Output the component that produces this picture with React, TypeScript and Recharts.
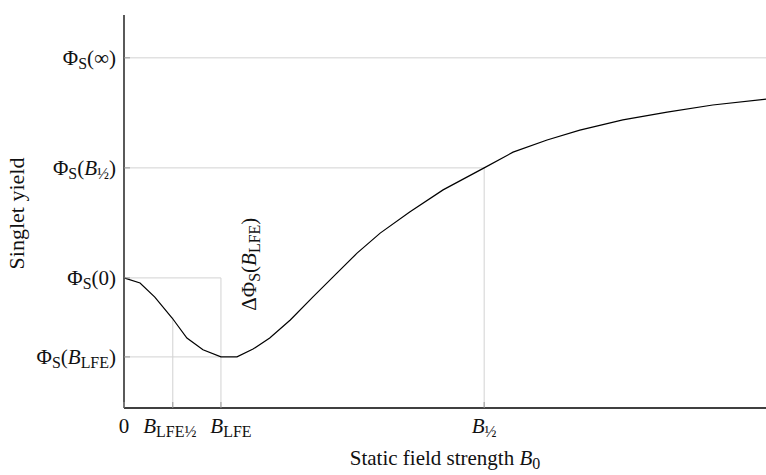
import React from 'react';
import { LineChart, Line, XAxis, YAxis, ReferenceLine, ReferenceDot } from 'recharts';

type Seg = { t: string; sub?: boolean; it?: boolean };

// curve: static field (0..100 of axis) vs singlet yield (0..100 of axis)
const FIELD = [0, 2.5, 4.8, 7.5, 9.8, 12.3, 15.1, 17.6, 20.1, 22.7, 25.9, 29.4, 33.2, 36.3, 39.9, 44.5, 49.7, 56.1, 60.6, 65.9, 71.0, 77.7, 84.6, 91.7, 100];
const YIELD = [33.1, 31.8, 28.2, 22.9, 17.8, 14.8, 13.0, 13.0, 15.0, 17.8, 22.4, 28.2, 34.4, 39.4, 44.5, 49.9, 55.5, 61.1, 65.1, 68.2, 70.7, 73.3, 75.3, 77.1, 78.6];

// 0, B_LFE½, B_LFE, B½
const X_TICKS = [0, 7.6, 15.1, 56.1];
// Φ(B_LFE), Φ(0), Φ(B½), Φ(∞)
const Y_TICKS = [13.0, 33.1, 61.1, 89.1];

const X_TICK_LABELS: Seg[][] = [
  [{ t: '0' }],
  [{ t: 'B', it: true }, { t: 'LFE½', sub: true }],
  [{ t: 'B', it: true }, { t: 'LFE', sub: true }],
  [{ t: 'B', it: true }, { t: '½', sub: true }],
];

const Y_TICK_LABELS: Seg[][] = [
  [{ t: 'Φ' }, { t: 'S', sub: true }, { t: '(' }, { t: 'B', it: true }, { t: 'LFE', sub: true }, { t: ')' }],
  [{ t: 'Φ' }, { t: 'S', sub: true }, { t: '(0)' }],
  [{ t: 'Φ' }, { t: 'S', sub: true }, { t: '(' }, { t: 'B', it: true }, { t: '½', sub: true }, { t: ')' }],
  [{ t: 'Φ' }, { t: 'S', sub: true }, { t: '(∞)' }],
];

const ANNOTATION: Seg[] = [{ t: 'ΔΦ' }, { t: 'S', sub: true }, { t: '(' }, { t: 'B', it: true }, { t: 'LFE', sub: true }, { t: ')' }];
const ANNOT_AT = { x: 19.8, y: 36.6 };

const X_TITLE: Seg[] = [{ t: 'Static field strength ' }, { t: 'B', it: true }, { t: '0', sub: true }];
const Y_TITLE: Seg[] = [{ t: 'Singlet yield' }];

const data = FIELD.map((b, i) => ({ b, phi: YIELD[i] }));

const FONT = "'Liberation Serif', 'Times New Roman', serif";
const SIZE = 21;
const GRID = '#d2d2d2';

function Rich({ segs, x, y, anchor = 'start', transform, size = SIZE }: { segs: Seg[]; x: number; y: number; anchor?: string; transform?: string; size?: number }) {
  let shift = 0;
  return (
    <text x={x} y={y} textAnchor={anchor} fontFamily={FONT} fontSize={size} fill="#111" transform={transform}>
      {segs.map((s, i) => {
        const target = s.sub ? size * 0.2 : 0;
        const dy = target - shift;
        shift = target;
        return (
          <tspan key={i} dy={dy} fontSize={s.sub ? size * 0.76 : size} fontStyle={s.it ? 'italic' : 'normal'}>
            {s.t}
          </tspan>
        );
      })}
    </text>
  );
}

const XTick = (props: any) => {
  const { x, y, payload } = props;
  const i = X_TICKS.indexOf(payload.value);
  // the B_LFE label sits a little right of its line in the original
  const nudge = i === 2 ? 10 : i === 1 ? -3 : 0;
  return (
    <g>
      <line x1={x} x2={x} y1={y - 8} y2={y - 14} stroke="#999" />
      <Rich segs={X_TICK_LABELS[i] || []} x={x + nudge} y={y + 17} anchor="middle" />
    </g>
  );
};

const YTick = (props: any) => {
  const { x, y, payload } = props;
  const i = Y_TICKS.indexOf(payload.value);
  return (
    <g>
      <line x1={x + 8} x2={x + 14} y1={y} y2={y} stroke="#999" />
      <Rich segs={Y_TICK_LABELS[i] || []} x={x} y={y + 7} anchor="end" />
    </g>
  );
};

export default function App() {
  const [phiLfe, phi0, phiHalf, phiInf] = Y_TICKS;
  const [, bLfeHalf, bLfe, bHalf] = X_TICKS;

  return (
    <div style={{ position: 'absolute', left: 0, top: 0, width: 766, height: 475, background: '#fff' }}>
      <LineChart width={766} height={475} data={data} margin={{ top: 15, right: 0, bottom: 37, left: 24 }}>
        <XAxis
          type="number"
          dataKey="b"
          domain={[0, 100]}
          ticks={X_TICKS}
          interval={0}
          tickLine={false}
          axisLine={{ stroke: '#000', strokeWidth: 1.3 }}
          tick={<XTick />}
          height={30}
          label={(p: any) => {
            const vb = p.viewBox;
            return <Rich segs={X_TITLE} x={vb.x + vb.width / 2} y={vb.y + 57} anchor="middle" />;
          }}
        />
        <YAxis
          type="number"
          domain={[0, 100]}
          ticks={Y_TICKS}
          interval={0}
          tickLine={false}
          axisLine={{ stroke: '#000', strokeWidth: 1.3 }}
          tick={<YTick />}
          width={100}
          label={(p: any) => {
            const vb = p.viewBox;
            const cx = 24;
            const cy = vb.y + vb.height / 2 + 2;
            return <Rich segs={Y_TITLE} x={cx} y={cy} anchor="middle" size={22} transform={`rotate(-90 ${cx} ${cy})`} />;
          }}
        />

        <ReferenceLine y={phiInf} stroke={GRID} />
        <ReferenceLine segment={[{ x: 0, y: phiHalf }, { x: bHalf, y: phiHalf }]} stroke={GRID} />
        <ReferenceLine segment={[{ x: bHalf, y: 0 }, { x: bHalf, y: phiHalf }]} stroke={GRID} />
        <ReferenceLine segment={[{ x: 0, y: phi0 }, { x: bLfe, y: phi0 }]} stroke={GRID} />
        <ReferenceLine segment={[{ x: bLfe, y: 0 }, { x: bLfe, y: phi0 }]} stroke={GRID} />
        <ReferenceLine segment={[{ x: 0, y: phiLfe }, { x: bLfe, y: phiLfe }]} stroke={GRID} />
        <ReferenceLine segment={[{ x: bLfeHalf, y: 0 }, { x: bLfeHalf, y: (phi0 + phiLfe) / 2 }]} stroke={GRID} />

        <Line dataKey="phi" type="linear" stroke="#000" strokeWidth={1.2} dot={false} isAnimationActive={false} />

        <ReferenceDot
          x={ANNOT_AT.x}
          y={ANNOT_AT.y}
          r={0}
          stroke="none"
          fill="none"
          label={(p: any) => {
            const vb = p.viewBox;
            const cx = vb.x + (vb.width || 0) / 2 + 5;
            const cy = vb.y + (vb.height || 0) / 2;
            return <Rich segs={ANNOTATION} x={cx} y={cy} anchor="middle" transform={`rotate(-90 ${cx} ${cy})`} />;
          }}
        />
      </LineChart>
    </div>
  );
}
